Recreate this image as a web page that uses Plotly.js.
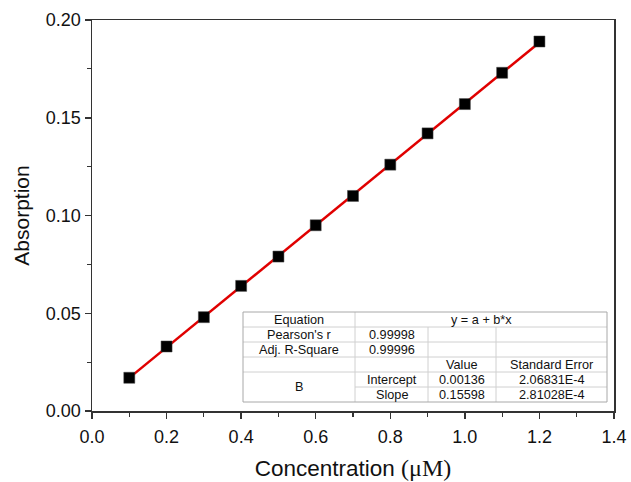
<!DOCTYPE html>
<html>
<head>
<meta charset="utf-8">
<script src="https://cdn.plot.ly/plotly-3.0.1.min.js"></script>
<style>html,body{margin:0;padding:0;background:#fff;}#chart{width:631px;height:482px;}</style>
</head>
<body>
<div id="chart"></div>
<script>
// ---- data ----
const concentration = [0.1, 0.2, 0.3, 0.4, 0.5, 0.6, 0.7, 0.8, 0.9, 1.0, 1.1, 1.2];
const absorption = [0.017, 0.033, 0.048, 0.064, 0.079, 0.095, 0.110, 0.126, 0.142, 0.157, 0.173, 0.189];
const fitIntercept = 0.00136;
const fitSlope = 0.15598;
const xTickVals = [0.0, 0.2, 0.4, 0.6, 0.8, 1.0, 1.2, 1.4];
const xTickText = ["0.0", "0.2", "0.4", "0.6", "0.8", "1.0", "1.2", "1.4"];
const yTickVals = [0.00, 0.05, 0.10, 0.15, 0.20];
const yTickText = ["0.00", "0.05", "0.10", "0.15", "0.20"];
const tableRows = [
  ["Equation", "y = a + b*x", "", ""],
  ["Pearson's r", "0.99998", "", ""],
  ["Adj. R-Square", "0.99996", "", ""],
  ["", "", "Value", "Standard Error"],
  ["B", "Intercept", "0.00136", "2.06831E-4"],
  ["", "Slope", "0.15598", "2.81028E-4"]
];

// ---- geometry (pixels) ----
const W = 631, H = 482;
const L = 92, R = 614, T = 20, B = 411;
const px = x => (x - L) / (R - L);
const py = y => (B - y) / (B - T);

const fitX = [concentration[0], concentration[concentration.length - 1]];
const fitY = fitX.map(x => fitIntercept + fitSlope * x);

const traces = [
  {x: fitX, y: fitY, mode: 'lines', line: {color: '#e00000', width: 2.5}, hoverinfo: 'skip'},
  {x: concentration, y: absorption, mode: 'markers',
   marker: {symbol: 'square', size: 11, color: '#000', line: {color: '#444', width: 0.5}}}
];

// table layout
const colX = [243, 355, 428, 496, 607];
const rowY = [312, 327, 342, 357, 372, 387, 402];
const shapes = [];
const annotations = [];
const thin = {color: '#d0d0d0', width: 1};
function hline(x0, x1, y) { shapes.push({type: 'line', xref: 'paper', yref: 'paper', x0: px(x0), x1: px(x1), y0: py(y), y1: py(y), line: thin}); }
function vline(x, y0, y1) { shapes.push({type: 'line', xref: 'paper', yref: 'paper', x0: px(x), x1: px(x), y0: py(y0), y1: py(y1), line: thin}); }
shapes.push({type: 'rect', xref: 'paper', yref: 'paper', x0: px(colX[0]), x1: px(colX[4]), y0: py(rowY[6]), y1: py(rowY[0]), fillcolor: '#fff', line: {width: 0}, layer: 'above'});
for (let r = 1; r <= 5; r++) {
  if (r === 5) hline(colX[1], colX[4], rowY[r]);
  else hline(colX[0], colX[4], rowY[r]);
}
vline(colX[1], rowY[0], rowY[6]);
vline(colX[2], rowY[1], rowY[6]);
vline(colX[3], rowY[1], rowY[6]);
shapes.push({type: 'rect', xref: 'paper', yref: 'paper', x0: px(colX[0]), x1: px(colX[4]), y0: py(rowY[6]), y1: py(rowY[0]), line: {color: '#a8a8a8', width: 1}});

const tfont = {family: 'Liberation Sans, Arial, sans-serif', size: 12.7, color: '#111'};
function cell(text, cx, cy) {
  if (!text) return;
  annotations.push({text: text, xref: 'paper', yref: 'paper', x: px(cx), y: py(cy), xanchor: 'center', yanchor: 'middle', showarrow: false, font: tfont});
}
tableRows.forEach((row, r) => {
  row.forEach((t, c) => {
    let cx = (colX[c] + colX[c + 1]) / 2;
    let cy = (rowY[r] + rowY[r + 1]) / 2;
    if (r === 0 && c === 1) cx = (colX[1] + colX[4]) / 2;
    if (r === 4 && c === 0) cy = (rowY[4] + rowY[6]) / 2;
    cell(t, cx, cy);
  });
});

const axisCommon = {
  showgrid: false, zeroline: false, showline: true, linecolor: '#333', linewidth: 1.5,
  mirror: true, ticks: 'outside', ticklen: 6, tickwidth: 1.5, tickcolor: '#333',
  tickfont: {family: 'Liberation Sans, Arial, sans-serif', size: 18, color: '#111'}
};

const layout = {
  width: W, height: H,
  margin: {l: L, r: W - R, t: T, b: H - B},
  paper_bgcolor: '#fff', plot_bgcolor: '#fff',
  showlegend: false,
  xaxis: Object.assign({}, axisCommon, {
    range: [0, 1.4], tickvals: xTickVals, ticktext: xTickText, ticklabelstandoff: 3,
    minor: {dtick: 0.1, ticks: 'outside', ticklen: 4, tickwidth: 1.2, tickcolor: '#333'},
    title: {text: 'Concentration <span style="font-family:Liberation Serif, Times New Roman, serif;font-size:24px">(μM)</span>', font: {family: 'Liberation Sans, Arial, sans-serif', size: 22.5, color: '#111'}, standoff: 14}
  }),
  yaxis: Object.assign({}, axisCommon, {
    range: [0, 0.2], tickvals: yTickVals, ticktext: yTickText,
    minor: {dtick: 0.025, ticks: 'outside', ticklen: 4, tickwidth: 1.2, tickcolor: '#333'},
    title: {text: 'Absorption', font: {family: 'Liberation Sans, Arial, sans-serif', size: 21, color: '#111'}, standoff: 10}
  }),
  shapes: shapes,
  annotations: annotations
};

Plotly.newPlot('chart', traces, layout, {staticPlot: true, displayModeBar: false});
</script>
</body>
</html>
